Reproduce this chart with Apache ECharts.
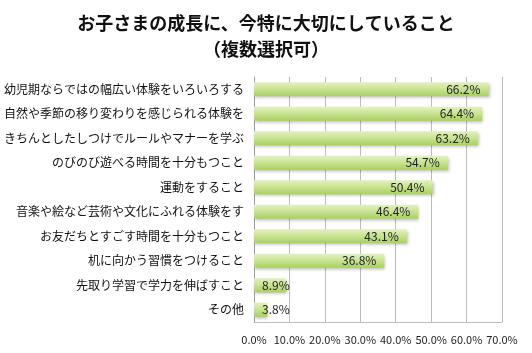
<!DOCTYPE html>
<html>
<head>
<meta charset="utf-8">
<script src="https://cdn.jsdelivr.net/npm/echarts@6/dist/echarts.min.js"></script>
<style>
  html, body { margin: 0; padding: 0; background: #fff; }
  #main { width: 532px; height: 353px; }
</style>
</head>
<body>
<div id="main"></div>
<script>
// categories, top to bottom
var categories = [
  '幼児期ならではの幅広い体験をいろいろする',
  '自然や季節の移り変わりを感じられる体験を',
  'きちんとしたしつけでルールやマナーを学ぶ',
  'のびのび遊べる時間を十分もつこと',
  '運動をすること',
  '音楽や絵など芸術や文化にふれる体験をす',
  'お友だちとすごす時間を十分もつこと',
  '机に向かう習慣をつけること',
  '先取り学習で学力を伸ばすこと',
  'その他'
];
var values = [66.2, 64.4, 63.2, 54.7, 50.4, 46.4, 43.1, 36.8, 8.9, 3.8];
var titleLines = ['お子さまの成長に、今特に大切にしていること', '（複数選択可）'];

var font = '"Noto Sans CJK JP", "Noto Sans", sans-serif';

var chart = echarts.init(document.getElementById('main'));

var barColor = new echarts.graphic.LinearGradient(0, 0, 0, 1, [
  { offset: 0, color: '#e2f2c0' },
  { offset: 0.5, color: '#c8e391' },
  { offset: 1, color: '#a8cf62' }
]);

var option = {
  animation: false,
  title: {
    text: titleLines.join('\n'),
    left: 'center',
    top: 5,
    textStyle: {
      fontFamily: font,
      fontSize: 18,
      fontWeight: 'bold',
      color: '#111',
      lineHeight: 26
    }
  },
  grid: { left: 254, right: 30, top: 77, bottom: 31, containLabel: false },
  xAxis: {
    type: 'value',
    min: 0,
    max: 70,
    interval: 10,
    axisLine: { show: true, lineStyle: { color: '#bcbcbc' } },
    axisTick: { show: false },
    axisLabel: {
      formatter: function (v) { return v.toFixed(1) + '%'; },
      fontFamily: font,
      fontSize: 11,
      color: '#222',
      margin: 12
    },
    splitLine: { lineStyle: { color: '#bcbcbc', width: 1 } }
  },
  yAxis: {
    type: 'category',
    inverse: true,
    data: categories,
    axisLine: { show: true, lineStyle: { color: '#9a9a9a' } },
    axisTick: { show: false },
    axisLabel: {
      fontFamily: font,
      fontSize: 12,
      color: '#111',
      margin: 10
    }
  },
  series: [{
    type: 'bar',
    barCategoryGap: '42%',
    data: values.map(function (v) {
      return {
        value: v,
        label: { position: v < 10 ? 'insideLeft' : 'insideRight' }
      };
    }),
    itemStyle: {
      color: barColor,
      shadowColor: 'rgba(0,0,0,0.25)',
      shadowBlur: 3,
      shadowOffsetX: 1,
      shadowOffsetY: 2
    },
    label: {
      show: true,
      distance: 8,
      formatter: function (p) { return p.value.toFixed(1) + '%'; },
      fontFamily: font,
      fontSize: 12,
      color: '#222'
    }
  }]
};

chart.setOption(option);
</script>
</body>
</html>
